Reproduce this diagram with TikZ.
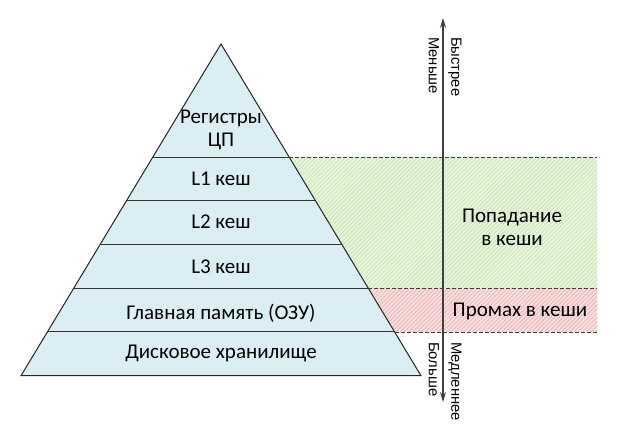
\documentclass[tikz,border=0pt]{standalone}
\usepackage{fontspec}
\setmainfont{Carlito}
\newfontfamily\axisfont{Liberation Sans}
\usetikzlibrary{patterns.meta,arrows.meta}
\definecolor{pyrfill}{HTML}{DAEEF3}
\definecolor{hitfill}{HTML}{E8F5DE}
\definecolor{hitline}{HTML}{C8E7B0}
\definecolor{missfill}{HTML}{F9E0E0}
\definecolor{missline}{HTML}{EDB4B4}
\tikzset{
  lbl/.style={font=\fontsize{21}{23}\selectfont, text=black, align=center, inner sep=0pt},
  axlbl/.style={font=\axisfont\fontsize{14.8}{17}\selectfont, rotate=-90, anchor=west, inner sep=0pt},
  sep/.style={draw=black!80, line width=0.9pt},
  dsh/.style={draw=black!75, line width=0.9pt, dash pattern=on 4pt off 2pt},
}
\begin{document}
\begin{tikzpicture}[x=1pt,y=-1pt]
\useasboundingbox (0,0) rectangle (621,435);
% coordinates
\coordinate (apex) at (221,44);
\coordinate (bl) at (21,375.7);
\coordinate (br) at (421,375.7);
% hit region
\coordinate (h1) at (289.1,157);
\coordinate (h2) at (368.0,288);
\coordinate (h3) at (394.5,332);
\fill[hitfill] (h1) -- (597,157) -- (597,288) -- (h2) -- cycle;
\fill[pattern={Lines[angle=45,distance=3pt,line width=0.8pt]}, pattern color=hitline] (h1) -- (597,157) -- (597,288) -- (h2) -- cycle;
\fill[missfill] (h2) -- (597,288) -- (597,332) -- (h3) -- cycle;
\fill[pattern={Lines[angle=45,distance=3pt,line width=0.8pt]}, pattern color=missline] (h2) -- (597,288) -- (597,332) -- (h3) -- cycle;
% pyramid
\filldraw[fill=pyrfill, draw=black!85, line width=1pt, line join=miter] (apex) -- (br) -- (bl) -- cycle;
\coordinate (l1) at (152.9,157);
\coordinate (l2) at (127.0,200.7);
\coordinate (l3) at (100.5,244.5);
\coordinate (l4) at (74.1,288);
\coordinate (l5) at (47.8,331.7);
\coordinate (r2) at (315.1,200.7);
\coordinate (r3) at (341.5,244.5);
\coordinate (r5) at (394.3,331.7);
\draw[sep] (l1) -- (h1);
\draw[sep] (l2) -- (r2);
\draw[sep] (l3) -- (r3);
\draw[sep] (l4) -- (h2);
\draw[sep] (l5) -- (r5);
% dashed borders
\coordinate (e1) at (597,157);
\coordinate (e2) at (597,288);
\coordinate (e3) at (597,332);
\draw[dsh] (h1) -- (e1);
\draw[dsh] (h2) -- (e2);
\draw[dsh] (h3) -- (e3);
% labels
\node[lbl] (reg) at (221,129.5) {Регистры\\ЦП};
\node[lbl] (c1) at (221,179) {L1 кеш};
\node[lbl] (c2) at (221,222) {L2 кеш};
\node[lbl] (c3) at (221,267) {L3 кеш};
\node[lbl] (ram) at (221,313) {Главная память (ОЗУ)};
\node[lbl] (disk) at (221,353) {Дисковое хранилище};
\node[lbl] (hit) at (512,227) {Попадание\\в кеши};
\node[lbl] (miss) at (520,311) {Промах в кеши};
% axis
\coordinate (atop) at (443,18);
\coordinate (abot) at (443,402);
\draw[black!75, line width=1.1pt, {Stealth[length=10pt,width=6pt]}-{Stealth[length=10pt,width=6pt]}] (atop) -- (abot);
\node[axlbl] (fast) at (455,37) {Быстрее};
\node[axlbl] (less) at (434,37) {Меньше};
\node[axlbl] (slow) at (455,342) {Медленнее};
\node[axlbl] (more) at (434,342) {Больше};
\end{tikzpicture}
\end{document}
